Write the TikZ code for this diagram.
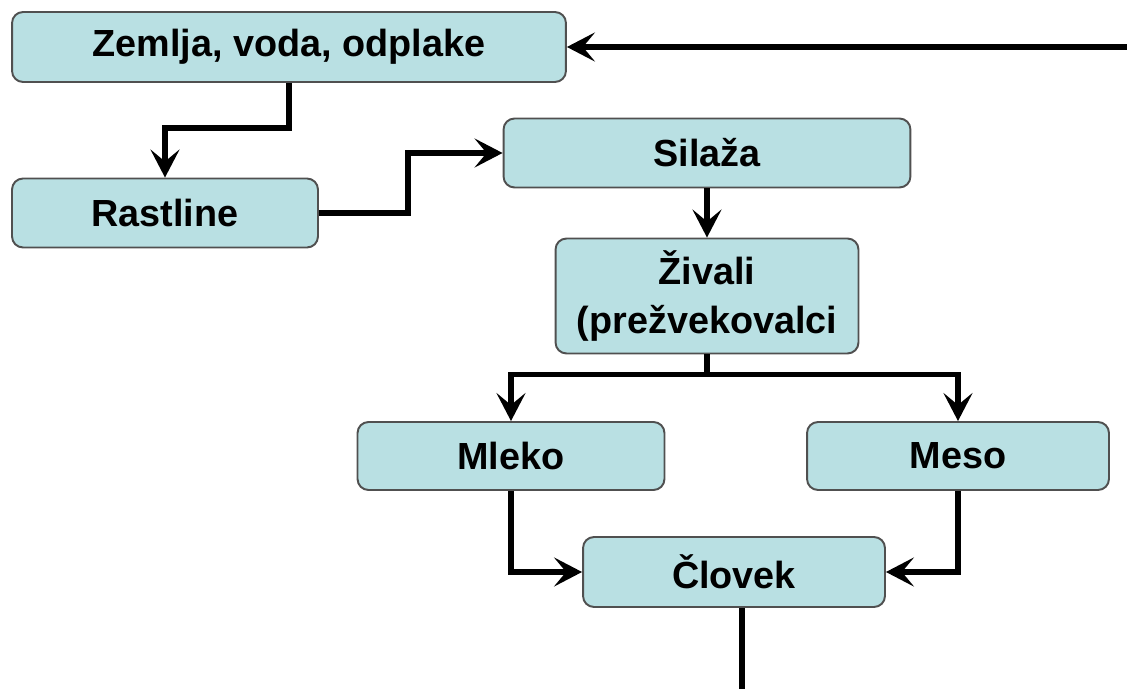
\documentclass[tikz,border=0pt]{standalone}
\usepackage{fontspec}
\setmainfont{Liberation Sans}
\usetikzlibrary{arrows.meta}
\definecolor{boxfill}{RGB}{185,224,227}
\definecolor{boxline}{RGB}{80,80,80}
\begin{document}
\begin{tikzpicture}[x=0.02cm,y=-0.02cm,>={Stealth[length=0.56cm,width=0.58cm,inset=0.24cm]}]
        \tikzstyle{stage}=[draw=boxline,line width=1.1pt,fill=boxfill,rounded corners=0.22cm,inner sep=0pt,align=center,font=\fontsize{21.5}{27.5}\selectfont\bfseries]
        \tikzstyle{flow}=[line width=3.2pt,->]
        \useasboundingbox (0,0) rectangle (1127,689);
        \node[stage,minimum width=11.08cm,minimum height=1.4cm] (zemlja) at (289,47) {Zemlja, voda, odplake};
        \node[stage,minimum width=6.12cm,minimum height=1.38cm] (rastline) at (165,213) {Rastline};
        \node[stage,minimum width=8.14cm,minimum height=1.38cm] (silaza) at (707,153) {Silaža};
        \node[stage,minimum width=6.06cm,minimum height=2.3cm] (zivali) at (707,296) {Živali\\(prežvekovalci};
        \node[stage,minimum width=6.14cm,minimum height=1.36cm] (mleko) at (511,456) {Mleko};
        \node[stage,minimum width=6.04cm,minimum height=1.36cm] (meso) at (958,456) {Meso};
        \node[stage,minimum width=6.04cm,minimum height=1.4cm] (clovek) at (734,572) {Človek};
        \coordinate (povratek) at (1127,47);
        \coordinate (odtok) at (742,689);
        \draw[flow] (zemlja.south) -- ++(0,45) -| (rastline.north);
        \draw[flow] (rastline.east) -- ++(89,0) |- (silaza.west);
        \draw[flow] (silaza.south) -- (zivali.north);
        \draw[line width=3.2pt] (zivali.south) -- ++(0,20) coordinate (razcep);
        \draw[flow] (razcep) -| (mleko.north);
        \draw[flow] (razcep) -| (meso.north);
        \draw[flow] (mleko.south) |- (clovek.west);
        \draw[flow] (meso.south) |- (clovek.east);
        \draw[line width=3.2pt] (clovek.south -| odtok) -- (odtok);
        \draw[flow] (povratek) -- (zemlja.east);
    \end{tikzpicture}
\end{document}
